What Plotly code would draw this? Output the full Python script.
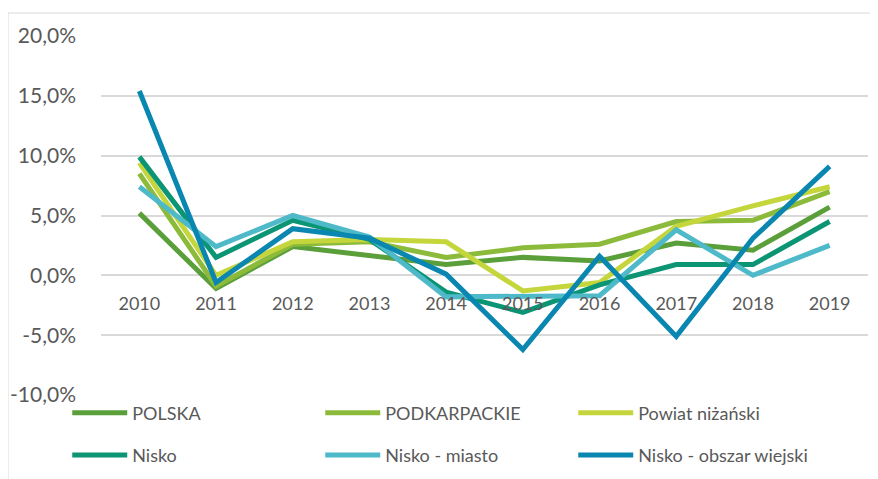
import plotly.graph_objects as go

# Years on the category axis
years = ["2010", "2011", "2012", "2013", "2014", "2015", "2016", "2017", "2018", "2019"]

# Values in percent
polska = [5.2, -1.1, 2.4, 1.6, 0.9, 1.5, 1.2, 2.7, 2.1, 5.7]
podkarpackie = [8.5, -0.9, 2.6, 2.8, 1.5, 2.3, 2.6, 4.5, 4.6, 7.0]
powiat_nizanski = [9.4, 0.0, 2.8, 3.0, 2.8, -1.3, -0.6, 4.1, 5.8, 7.4]
nisko = [9.9, 1.5, 4.6, 3.0, -1.4, -3.1, -0.8, 0.9, 0.9, 4.5]
nisko_miasto = [7.4, 2.4, 5.0, 3.2, -1.8, -1.8, -1.7, 3.8, 0.0, 2.5]
nisko_wies = [15.4, -0.6, 3.9, 3.1, 0.1, -6.2, 1.6, -5.1, 3.1, 9.1]

# y tick labels (plain hyphen, comma decimals as in the original)
y_ticks = [-10, -5, 0, 5, 10, 15, 20]
y_tick_labels = ["-10,0%", "-5,0%", "0,0%", "5,0%", "10,0%", "15,0%", "20,0%"]

series = [
    ("POLSKA", polska, "#5a9f3a", "legend"),
    ("PODKARPACKIE", podkarpackie, "#8cbb3c", "legend"),
    ("Powiat niżański", powiat_nizanski, "#c4d63c", "legend"),
    ("Nisko", nisko, "#0b9574", "legend2"),
    ("Nisko - miasto", nisko_miasto, "#4db9c9", "legend2"),
    ("Nisko - obszar wiejski", nisko_wies, "#0a87b0", "legend2"),
]

fig = go.Figure()
for name, vals, color, leg in series:
    fig.add_trace(go.Scatter(
        x=years, y=vals, name=name, mode="lines",
        line=dict(color=color, width=5),
        legend=leg,
    ))

grey = "#595959"
legend_style = dict(
    orientation="h", xanchor="left", yanchor="middle",
    entrywidth=183, entrywidthmode="pixels",
    font=dict(family="Lato", size=18, color=grey),
    itemwidth=55, bgcolor="rgba(0,0,0,0)",
)

fig.update_layout(
    width=870, height=471,
    margin=dict(l=93, r=10, t=28, b=84, autoexpand=False),
    paper_bgcolor="white", plot_bgcolor="white",
    font=dict(family="Lato", color=grey),
    legend=dict(x=-0.044, y=-0.05, **legend_style),
    legend2=dict(x=-0.044, y=-0.168, **legend_style),
    xaxis=dict(
        type="category", range=[-0.5, 9.5],
        anchor="free", position=1/3,
        showgrid=False, showline=False, ticks="",
        tickfont=dict(size=18, color=grey),
        ticklabelstandoff=16,
    ),
    yaxis=dict(
        range=[-10, 20], tickvals=y_ticks, ticktext=y_tick_labels,
        showgrid=True, gridcolor="#d9d9d9", gridwidth=1.5,
        zeroline=False, showline=False,
        tickfont=dict(size=21, color=grey),
        ticklabelstandoff=24,
    ),
    shapes=[dict(
        type="rect", xref="paper", yref="paper",
        x0=-93/767, x1=1.0 + 9/767, y0=-95/359, y1=1.0 + 23/359,
        line=dict(color="#d9d9d9", width=1), layer="below",
    )],
)

fig.write_html("out.html")
